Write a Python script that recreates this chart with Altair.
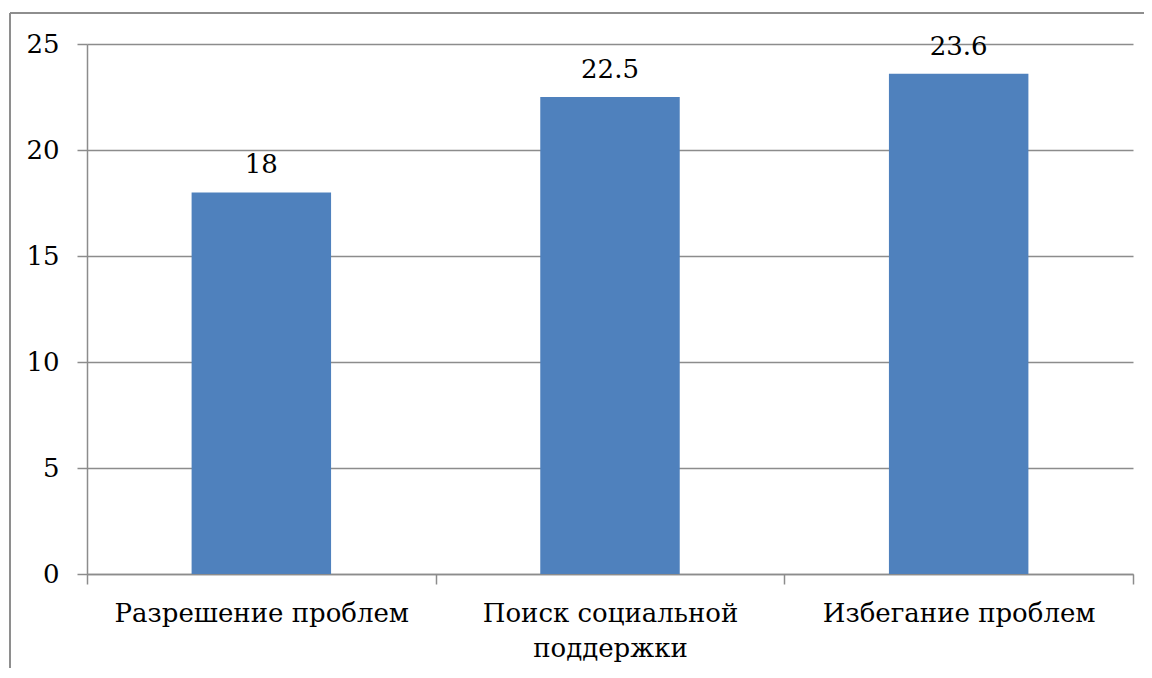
import altair as alt
import pandas as pd

categories = ["Разрешение проблем", "Поиск социальной поддержки", "Избегание проблем"]
values = [18, 22.5, 23.6]
y_ticks = [0, 5, 10, 15, 20, 25]

df = pd.DataFrame({"cat": categories, "val": values})
FONT = "DejaVu Serif"
FS = 26

x = alt.X("cat:N", sort=categories, title=None,
          scale=alt.Scale(paddingInner=0, paddingOuter=0),
          axis=alt.Axis(labelAngle=0, labelFont=FONT, labelFontSize=FS, labelColor="black",
                        labelPadding=16, labelLimit=400, tickBand="extent", tickSize=10,
                        tickColor="#8c8c8c", domainColor="#8c8c8c", tickWidth=1.5, domainWidth=1.5,
                        labelLineHeight=35,
                        labelExpr="datum.label == 'Поиск социальной поддержки' ? ['Поиск социальной', 'поддержки'] : datum.label"))
y = alt.Y("val:Q", title=None,
          scale=alt.Scale(domain=[0, 25], nice=False),
          axis=alt.Axis(values=y_ticks, labelFont=FONT, labelFontSize=FS, labelColor="black",
                        labelPadding=18, tickSize=10, tickColor="#8c8c8c", domainColor="#8c8c8c",
                        tickWidth=1.5, domainWidth=1.5, gridColor="#8c8c8c", gridWidth=1.5))

bars = alt.Chart(df).mark_bar(color="#4F81BD", width=alt.RelativeBandSize(0.4)).encode(x=x, y=y)
text = alt.Chart(df).mark_text(font=FONT, fontSize=FS, color="black", baseline="alphabetic", dy=-19).encode(
    x=alt.X("cat:N", sort=categories), y="val:Q", text="val:Q")

border_left = alt.Chart(df).mark_rule(color="#8c8c8c", strokeWidth=1.5, clip=False).encode(
    x=alt.value(-77), y=alt.value(-31), y2=alt.value(700))
border_top = alt.Chart(df).mark_rule(color="#8c8c8c", strokeWidth=1.5, clip=False).encode(
    x=alt.value(-77), x2=alt.value(1060), y=alt.value(-31))

chart = alt.layer(bars, text, border_left, border_top).properties(
    width=1046, height=530,
    autosize=alt.AutoSizeParams(type="none"),
    padding={"left": 79, "top": 36, "right": 11, "bottom": 94},
).configure(background="white").configure_view(stroke=None)

chart.save("out.html", embed_options={"renderer": "svg", "actions": False})
